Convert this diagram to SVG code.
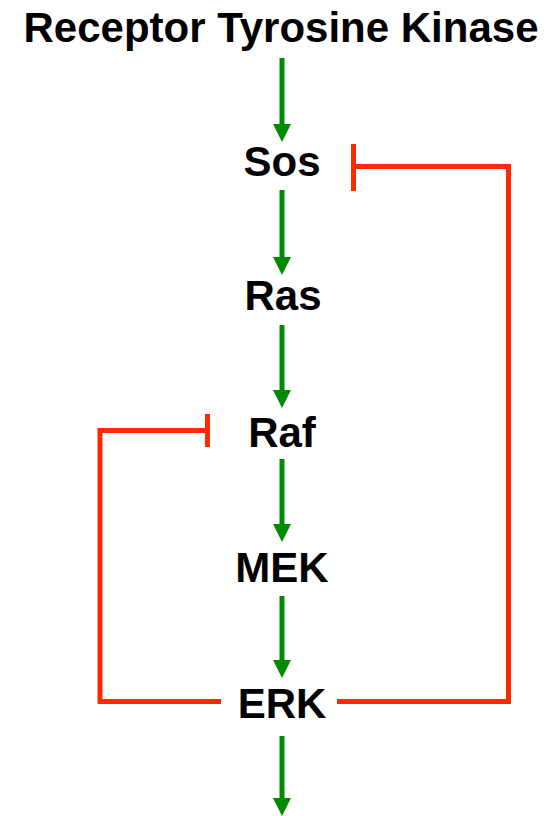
<svg xmlns="http://www.w3.org/2000/svg" width="548" height="816" viewBox="0 0 548 816">
  <style>
    .label { font-family: "Liberation Sans", Arial, sans-serif; font-weight: bold; font-size: 42px; fill: #000; text-anchor: middle; }
    .act { stroke: #008a00; stroke-width: 5; fill: none; marker-end: url(#arrow); }
    .inh { stroke: #ff2a00; stroke-width: 5; fill: none; stroke-linejoin: miter; }
  </style>
  <defs>
    <marker id="arrow" markerUnits="userSpaceOnUse" markerWidth="18" markerHeight="18" refX="1" refY="9" orient="auto">
      <path d="M0,0 L18,9 L0,18 z" fill="#008a00"/>
    </marker>
  </defs>
  <rect width="548" height="816" fill="#fff"/>

  <g id="rtk"><text class="label" x="281" y="42">Receptor Tyrosine Kinase</text></g>
  <g id="sos"><text class="label" x="282" y="176">Sos</text></g>
  <g id="ras"><text class="label" x="283" y="310">Ras</text></g>
  <g id="raf"><text class="label" x="282" y="447">Raf</text></g>
  <g id="mek"><text class="label" x="282" y="582">MEK</text></g>
  <g id="erk"><text class="label" x="282" y="718">ERK</text></g>

  <g id="connectors">
    <!-- activation arrows down the cascade -->
    <line class="act" x1="282" y1="58" x2="282" y2="125"/>
    <line class="act" x1="282" y1="190" x2="282" y2="258"/>
    <line class="act" x1="282" y1="325" x2="282" y2="391"/>
    <line class="act" x1="282" y1="459" x2="282" y2="525"/>
    <line class="act" x1="282" y1="596" x2="282" y2="661"/>
    <line class="act" x1="282" y1="736" x2="282" y2="799"/>

    <!-- ERK feedback inhibition of Sos -->
    <polyline class="inh" points="337,701.5 508.5,701.5 508.5,166.5 353.5,166.5"/>
    <line class="inh" x1="353.5" y1="144" x2="353.5" y2="191"/>

    <!-- ERK feedback inhibition of Raf -->
    <polyline class="inh" points="221,701.5 100,701.5 100,430.5 207.5,430.5"/>
    <line class="inh" x1="207.5" y1="414" x2="207.5" y2="447"/>
  </g>
</svg>
